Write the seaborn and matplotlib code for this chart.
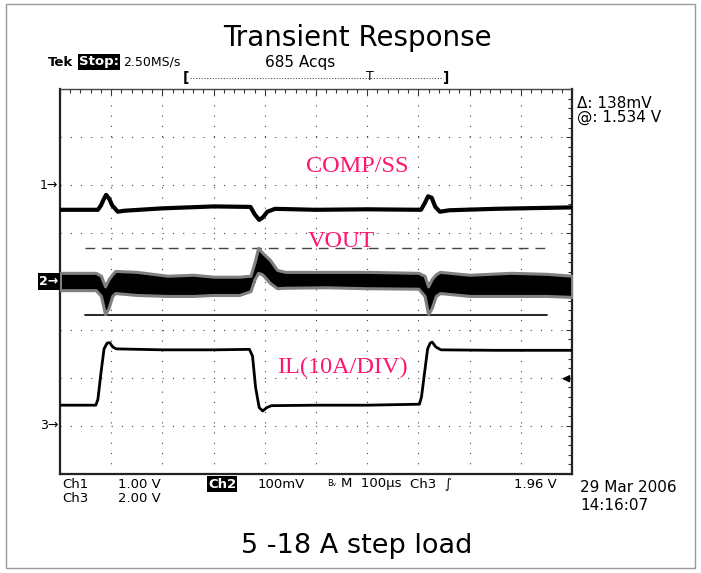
import matplotlib
matplotlib.use("Agg")
import matplotlib.pyplot as plt
import matplotlib.transforms as mtransforms
from matplotlib.lines import Line2D
from matplotlib.patches import Rectangle
from matplotlib.ticker import MultipleLocator
import pandas as pd
import seaborn as sns

# time in microseconds (100 us/div), amplitude in screen divisions (0 = centre)
t_comp = [0, 74, 80, 85, 90, 96, 102, 113, 125, 200, 300, 372, 380, 389, 396, 405, 420,
          500, 600, 705, 712, 719, 726, 733, 742, 760, 850, 1000]
comp_ss = [1.49, 1.49, 1.58, 1.70, 1.80, 1.72, 1.58, 1.45, 1.47, 1.52, 1.56, 1.55, 1.40, 1.28,
           1.33, 1.45, 1.51, 1.49, 1.50, 1.49, 1.62, 1.77, 1.74, 1.55, 1.45, 1.48, 1.51, 1.54]

t_vout = [0, 70, 80, 88, 95, 102, 108, 150, 210, 260, 300, 350, 372, 380, 387, 395, 410,
          424, 440, 520, 600, 700, 712, 719, 726, 734, 742, 800, 880, 950, 1000]
vout_hi = [0.18, 0.18, 0.12, -0.10, 0.05, 0.15, 0.22, 0.20, 0.12, 0.14, 0.10, 0.10, 0.12,
           0.40, 0.70, 0.60, 0.45, 0.24, 0.20, 0.20, 0.20, 0.18, 0.12, -0.10, 0.05, 0.15,
           0.20, 0.14, 0.18, 0.16, 0.12]
vout_lo = [-0.18, -0.18, -0.30, -0.68, -0.55, -0.30, -0.24, -0.28, -0.30, -0.30, -0.28,
           -0.28, -0.20, 0.05, 0.18, 0.15, -0.03, -0.14, -0.13, -0.12, -0.14, -0.15, -0.30,
           -0.68, -0.55, -0.30, -0.24, -0.30, -0.30, -0.30, -0.32]

t_il = [0, 70, 74, 80, 86, 92, 97, 103, 110, 200, 300, 370, 376, 382, 389, 396, 404, 413,
        500, 600, 702, 706, 712, 718, 723, 727, 734, 744, 850, 1000]
il = [-2.57, -2.57, -2.45, -1.90, -1.40, -1.28, -1.27, -1.36, -1.40, -1.42, -1.42, -1.41,
      -1.55, -2.20, -2.62, -2.69, -2.62, -2.58, -2.57, -2.57, -2.55, -2.40, -1.90, -1.40,
      -1.28, -1.26, -1.36, -1.42, -1.43, -1.43]

cursor_t = [49, 951]
cursor_top = 0.69
cursor_bottom = -0.69

ground_levels = {"1": 2.0, "2": 0.0, "3": -3.0}
trigger_level = -2.02

W, H = 701, 573


def fx(x):
    return x / W


def fy(y):
    return 1 - y / H


sns.set_style("white")
plt.rcParams["text.color"] = "black"
fig = plt.figure(figsize=(W / 100, H / 100), dpi=100)
ax = fig.add_axes([fx(60), fy(474), (572 - 60) / W, (474 - 89) / H])

ax.set_xlim(0, 1000)
ax.set_ylim(-4, 4)
ax.xaxis.set_major_locator(MultipleLocator(100))
ax.yaxis.set_major_locator(MultipleLocator(1))
ax.xaxis.set_minor_locator(MultipleLocator(20))
ax.yaxis.set_minor_locator(MultipleLocator(0.2))
ax.tick_params(which="both", direction="in", top=True, right=True,
               labelbottom=False, labelleft=False, color="#333333", width=0.8)
ax.tick_params(which="major", length=4)
ax.tick_params(which="minor", length=3)
ax.grid(True, which="major", color="#444444", linewidth=0.8, linestyle=(0, (1, 8.2)))
for side in ["left", "bottom", "right"]:
    ax.spines[side].set_linewidth(1.6)
    ax.spines[side].set_color("#222222")
ax.spines["top"].set_linewidth(1.0)
ax.spines["top"].set_color("#444444")

# VOUT: thick noisy band
ax.fill_between(t_vout, vout_lo, vout_hi, color="black", edgecolor="#808080", linewidth=2.2, zorder=3)

comp_df = pd.DataFrame({"t": t_comp, "v": comp_ss})
il_df = pd.DataFrame({"t": t_il, "v": il})
sns.lineplot(data=comp_df, x="t", y="v", ax=ax, color="black", linewidth=3, zorder=4)
sns.lineplot(data=il_df, x="t", y="v", ax=ax, color="black", linewidth=2, zorder=4)
ax.set_xlabel("")
ax.set_ylabel("")

# cursors
ax.plot(cursor_t, [cursor_top, cursor_top], color="#444444", linewidth=1, dashes=(7, 5), zorder=2)
ax.plot(cursor_t, [cursor_bottom, cursor_bottom], color="black", linewidth=1.2, zorder=2)

bt = mtransforms.blended_transform_factory(ax.transAxes, ax.transData)
pink = "#ff1470"
label_kw = dict(transform=bt, ha="center", va="center", color=pink, fontsize=17.5,
                family="Liberation Serif")
ax.text(0.58, 2.38, "COMP/SS", **label_kw)
ax.text(0.549, 0.84, "VOUT", **label_kw)
ax.text(0.551, -1.78, "IL(10A/DIV)", **label_kw)

# channel ground markers and trigger level
for ch, lvl in ground_levels.items():
    if ch == "2":
        ax.text(-0.003, lvl, ch + "\u2192", transform=bt, ha="right", va="center", fontsize=9,
                color="white", fontweight="bold", clip_on=False,
                bbox=dict(facecolor="black", edgecolor="none", pad=1.2))
    else:
        ax.text(-0.003, lvl, ch + "\u2192", transform=bt, ha="right", va="center", fontsize=9,
                color="black", clip_on=False)
ax.annotate("", xy=(0.975, trigger_level), xytext=(1.0, trigger_level), xycoords=bt, textcoords=bt,
            arrowprops=dict(arrowstyle="-|>", color="black", lw=1.2, mutation_scale=10))

# titles
fig.text(fx(357), fy(38), "Transient Response", ha="center", va="center", fontsize=20,
         family="DejaVu Sans")
fig.text(fx(357), fy(546), "5 -18 A step load", ha="center", va="center", fontsize=19.5,
         family="DejaVu Sans")

# scope header
hdr = dict(fontsize=9.5, family="DejaVu Sans", va="center")
big = dict(fontsize=11, family="DejaVu Sans", va="center")
fig.text(fx(48), fy(62), "Tek", fontweight="bold", **hdr)
fig.text(fx(79), fy(62), "Stop:", color="white", fontweight="bold",
         bbox=dict(facecolor="black", edgecolor="none", pad=0.8), **hdr)
fig.text(fx(123), fy(62), "2.50MS/s", fontsize=9, family="DejaVu Sans", va="center")
fig.text(fx(265), fy(62), "685 Acqs", **big)
fig.add_artist(Line2D([fx(190), fx(443)], [fy(78), fy(78)], transform=fig.transFigure,
                      color="#555555", linewidth=0.8, linestyle=(0, (1, 1.5))))
fig.text(fx(186), fy(78), "[", ha="center", va="center", fontsize=10, fontweight="bold")
fig.text(fx(446), fy(78), "]", ha="center", va="center", fontsize=10, fontweight="bold")
fig.text(fx(370), fy(77), "T", ha="center", va="center", fontsize=9)

fig.text(fx(577), fy(103), "\u0394: 138mV", **big)
fig.text(fx(577), fy(117), "@: 1.534 V", **big)

# scope footer
fig.text(fx(62), fy(484), "Ch1", **hdr)
fig.text(fx(118), fy(484), "1.00 V", **hdr)
fig.text(fx(208), fy(484), "Ch2", color="white", fontweight="bold",
         bbox=dict(facecolor="black", edgecolor="none", pad=0.8), **hdr)
fig.text(fx(258), fy(484), "100mV", **hdr)
fig.text(fx(327), fy(484), "B\u1d65", fontsize=6, family="DejaVu Sans", va="center")
fig.text(fx(341), fy(484), "M  100\u00b5s", **hdr)
fig.text(fx(410), fy(484), "Ch3  \u222b", **hdr)
fig.text(fx(514), fy(484), "1.96 V", **hdr)
fig.text(fx(62), fy(498), "Ch3", **hdr)
fig.text(fx(118), fy(498), "2.00 V", **hdr)
fig.text(fx(580), fy(487), "29 Mar 2006", **big)
fig.text(fx(580), fy(506), "14:16:07", **big)

fig.add_artist(Rectangle((fx(6), fy(568)), (695 - 6) / W, (568 - 4) / H, transform=fig.transFigure,
                         fill=False, edgecolor="#999999", linewidth=1))

fig.savefig("out.png", dpi=100)
